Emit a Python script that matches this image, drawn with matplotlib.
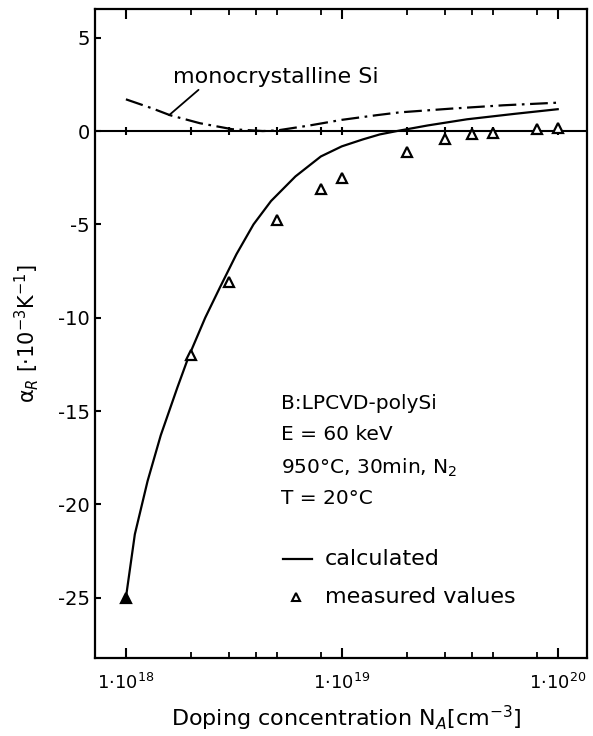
import numpy as np
import matplotlib
matplotlib.use("Agg")
import matplotlib.pyplot as plt
from matplotlib.ticker import FixedLocator, NullFormatter

plt.rcParams['font.family'] = ['DejaVu Sans']
plt.rcParams['mathtext.fontset'] = 'dejavusans'
plt.rcParams['axes.unicode_minus'] = False

# ---- data ----
calc_conc = [1.0e18, 1.10e18, 1.26e18, 1.45e18, 1.73e18, 1.95e18, 2.33e18, 2.72e18,
             3.25e18, 3.9e18, 4.7e18, 6.1e18, 8.0e18, 1.0e19, 1.25e19, 1.5e19,
             1.8e19, 2.5e19, 3.8e19, 6.3e19, 1.0e20]
calc_alpha = [-25.0, -21.6, -18.75, -16.3, -13.75, -12.1, -10.0, -8.4,
              -6.6, -5.0, -3.75, -2.43, -1.36, -0.82, -0.45, -0.18,
              0.0, 0.3, 0.63, 0.92, 1.17]

mono_conc = [1.0e18, 1.32e18, 1.6e18, 2.2e18, 3.1e18, 4.3e18, 5.0e18, 7.1e18,
             1.0e19, 1.45e19, 1.85e19, 3.2e19, 5.6e19, 1.0e20]
mono_alpha = [1.7, 1.22, 0.85, 0.42, 0.1, 0.0, 0.03, 0.3,
              0.6, 0.85, 1.0, 1.2, 1.38, 1.52]

meas_conc = [1e18, 2e18, 3e18, 5e18, 8e18, 1e19, 2e19, 3e19, 4e19, 5e19, 8e19, 1e20]
meas_alpha = [-25.0, -12.0, -8.1, -4.75, -3.1, -2.5, -1.1, -0.42, -0.15, -0.1, 0.1, 0.15]

major_ticks = [1e18, 1e19, 1e20]
major_labels = ["1·10$^{18}$", "1·10$^{19}$", "1·10$^{20}$"]
minor_ticks = [2e18, 3e18, 4e18, 5e18, 8e18, 2e19, 3e19, 4e19, 5e19, 8e19]
y_ticks = [5, 0, -5, -10, -15, -20, -25]

info_lines = ["B:LPCVD-polySi", "E = 60 keV", "950°C, 30min, N$_2$", "T = 20°C"]

# ---- figure ----
fig = plt.figure(figsize=(5.93, 7.36), dpi=100)
ax = fig.add_axes([0.161, 0.106, 0.8297, 0.8813])
ax.set_xscale('log')
ax.set_xlim(10**17.859, 10**20.138)
ax.set_ylim(-28.23, 6.52)

for s in ax.spines.values():
    s.set_linewidth(1.6)

ax.axhline(0, color='black', lw=1.5, zorder=2)
zero_ticks = sorted(major_ticks + minor_ticks)
ax.plot(zero_ticks, [0] * len(zero_ticks), ls='none', marker='|', ms=6,
        mew=1.5, color='black', zorder=3)

ax.plot(calc_conc, calc_alpha, color='black', lw=1.6, zorder=4)
ax.plot(mono_conc, mono_alpha, color='black', lw=1.6,
        dashes=(8, 2.5, 1.2, 2.5), zorder=4)

ax.plot(meas_conc[1:], meas_alpha[1:], ls='none', marker='^', ms=7,
        mfc='white', mec='black', mew=1.6, zorder=5)
ax.plot(meas_conc[:1], meas_alpha[:1], ls='none', marker='^', ms=7,
        mfc='black', mec='black', mew=1.6, zorder=5)

ax.xaxis.set_major_locator(FixedLocator(major_ticks))
ax.xaxis.set_minor_locator(FixedLocator(minor_ticks))
ax.xaxis.set_minor_formatter(NullFormatter())
ax.set_xticklabels(major_labels)
ax.set_yticks(y_ticks)
ax.set_yticklabels([str(v) for v in y_ticks])

ax.tick_params(axis='x', which='major', direction='in', length=7, width=1.5,
               top=True, labelsize=13, pad=11)
ax.tick_params(axis='x', which='minor', direction='in', length=4, width=1.3,
               top=True)
ax.tick_params(axis='y', which='major', direction='in', length=4, width=1.5,
               right=False, labelsize=14, pad=4)

ax.set_xlabel("Doping concentration N$_A$[cm$^{-3}$]", fontsize=16, va='center')
ax.xaxis.set_label_coords(0.509, -0.0925)
ax.set_ylabel("α$_R$ [·10$^{-3}$K$^{-1}$]", fontsize=15, va='center')
ax.yaxis.set_label_coords(-0.139, 0.5)

ax.annotate("monocrystalline Si", xy=(10**18.2, 0.85), xycoords='data',
            xytext=(0.1575, 0.8956), textcoords='axes fraction',
            fontsize=16, va='center', ha='left',
            arrowprops=dict(arrowstyle='-', color='black', lw=1.3,
                            shrinkA=0, shrinkB=0,
                            relpos=(0.14, 0.0)))

info_y = [0.3925, 0.3453, 0.2929, 0.2466]
for txt, yy in zip(info_lines, info_y):
    ax.text(0.378, yy, txt, transform=ax.transAxes, fontsize=14.5,
            ha='left', va='center')

ax.plot([0.381, 0.440], [0.1526, 0.1526], transform=ax.transAxes,
        color='black', lw=1.6)
ax.text(0.466, 0.1526, "calculated", transform=ax.transAxes, fontsize=16,
        ha='left', va='center')
ax.plot([0.4075], [0.0941], transform=ax.transAxes, ls='none', marker='^',
        ms=6, mfc='white', mec='black', mew=1.5)
ax.text(0.466, 0.0941, "measured values", transform=ax.transAxes, fontsize=16,
        ha='left', va='center')

fig.savefig("out.png", dpi=100)
